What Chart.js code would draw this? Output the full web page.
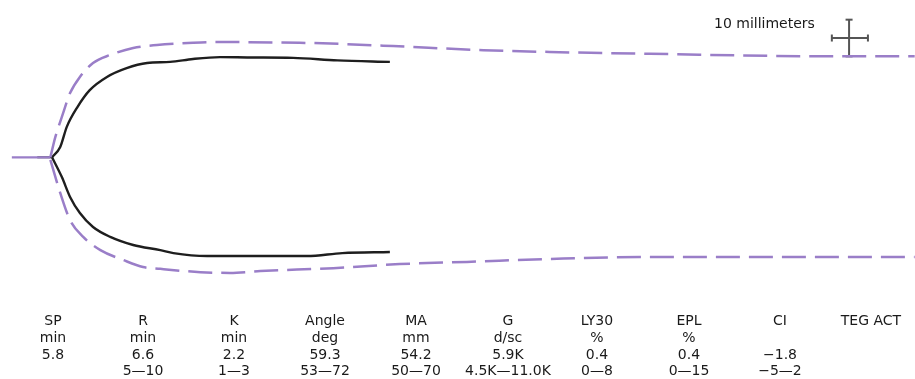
<!DOCTYPE html>
<html>
<head>
<meta charset="utf-8">
<script src="https://cdn.jsdelivr.net/npm/chart.js@4"></script>
<style>
  html, body { margin: 0; padding: 0; background: #fff; }
  #wrap { position: relative; width: 915px; height: 379px; overflow: hidden; }
  #c { position: absolute; left: 0; top: 0; }
  .txt { position: absolute; font-family: "DejaVu Sans", Verdana, sans-serif; font-size: 14px; color: #1a1a1a; white-space: nowrap; }
  .col { position: absolute; width: 110px; text-align: center; line-height: 16.8px; }
</style>
</head>
<body>
<div id="wrap">
  <canvas id="c" width="915" height="379"></canvas>
  <div class="txt" id="scaleLabel" style="left:714px; top:15px; line-height:16.8px;"></div>
  <div id="table"></div>
</div>
<script>
// ---- Data (time in minutes, amplitude in mm from the centre line) ----
const baselinePatientT = [4.8, 6.6];
const baselineNormalT = [1.7, 6.4];
const patientUpperT = [6.6, 7.6, 8.4, 9.7, 11.2, 13.3, 15.7, 18.2, 21.0, 23.8, 27.1, 30.7, 36.0, 41.4, 47.8];
const patientUpperA = [0, 2.8, 8.3, 13.7, 18.3, 21.9, 24.3, 25.7, 26.0, 26.8, 27.3, 27.2, 27.1, 26.4, 26.0];
const patientLowerT = [6.6, 7.8, 8.8, 10.0, 11.6, 13.7, 16.5, 19.8, 21.4, 25.5, 37.7, 42.0, 47.8];
const patientLowerA = [0, -5.4, -10.8, -15.2, -19.0, -21.7, -23.9, -25.3, -26.1, -26.9, -26.9, -26.1, -25.8];
const normalUpperT = [6.4, 7.0, 7.8, 8.8, 10.0, 11.6, 13.7, 16.5, 19.4, 23.8, 26.7, 36.8, 41.7, 48.2, 59.2, 67.3, 79.5, 101.8, 111.8];
const normalUpperA = [0, 5.5, 11.0, 17.5, 21.9, 25.7, 27.9, 29.8, 30.6, 31.2, 31.4, 31.2, 30.9, 30.3, 29.2, 28.7, 28.2, 27.5, 27.5];
const normalLowerT = [6.4, 7.6, 8.8, 10.4, 12.5, 15.3, 17.7, 19.8, 24.7, 28.3, 32.0, 40.9, 49.0, 57.2, 67.3, 78.3, 83.6, 111.8];
const normalLowerA = [-0.7, -9.7, -17.1, -21.7, -25.3, -28.0, -29.9, -30.4, -31.3, -31.5, -31.0, -30.2, -29.1, -28.5, -27.7, -27.2, -27.2, -27.2];
// scale marker: 10 millimetres
const scaleMarkT = 103.8;
const scaleMarkA = [27.5, 37.5];
const scaleMarkArmT = [101.7, 106.1];
const scaleMarkArmA = 32.5;
const scaleLabel = "10 millimeters";

// ---- Parameter table ----
const paramNames  = ["SP", "R", "K", "Angle", "MA", "G", "LY30", "EPL", "CI", "TEG ACT"];
const paramUnits  = ["min", "min", "min", "deg", "mm", "d/sc", "%", "%", "", ""];
const paramValues = ["5.8", "6.6", "2.2", "59.3", "54.2", "5.9K", "0.4", "0.4", "\u22121.8", ""];
const paramRanges = ["", "5\u201410", "1\u20143", "53\u201472", "50\u201470", "4.5K\u201411.0K", "0\u20148", "0\u201415", "\u22125\u20142", ""];

function pts(ts, as) { return ts.map((t, i) => ({ x: t, y: as[i] })); }

const purple = "#9a7ec8";
const black = "#1e1e1e";

new Chart(document.getElementById("c"), {
  type: "scatter",
  data: {
    datasets: [
      { data: pts(baselineNormalT, [0, 0]), borderColor: purple, borderWidth: 2.3 },
      { data: pts(normalUpperT, normalUpperA), borderColor: purple, borderWidth: 2.5, borderDash: [24, 9], cubicInterpolationMode: "monotone" },
      { data: pts(normalLowerT, normalLowerA), borderColor: purple, borderWidth: 2.5, borderDash: [24, 9], cubicInterpolationMode: "monotone" },
      { data: pts(baselinePatientT, [0, 0]), borderColor: "#333", borderWidth: 2 },
      { data: pts(patientUpperT, patientUpperA), borderColor: black, borderWidth: 2.4, cubicInterpolationMode: "monotone" },
      { data: pts(patientLowerT, patientLowerA), borderColor: black, borderWidth: 2.4, cubicInterpolationMode: "monotone" },
      { data: [{ x: scaleMarkT, y: scaleMarkA[0] }, { x: scaleMarkT, y: scaleMarkA[1] }], borderColor: "#555", borderWidth: 2,
        pointStyle: "line", pointRadius: 3.5, pointBorderWidth: 2, pointBorderColor: "#555" },
      { data: [{ x: scaleMarkArmT[0], y: scaleMarkArmA }, { x: scaleMarkArmT[1], y: scaleMarkArmA }], borderColor: "#555", borderWidth: 2,
        pointStyle: "line", pointRotation: 90, pointRadius: 3.5, pointBorderWidth: 2, pointBorderColor: "#555" }
    ].map(d => Object.assign({ showLine: true, pointRadius: 0, fill: false, clip: false }, d))
  },
  options: {
    responsive: false,
    animation: false,
    layout: { padding: 0, autoPadding: false },
    plugins: { legend: { display: false }, tooltip: { enabled: false } },
    scales: {
      x: { type: "linear", min: 0.256, max: 111.84, display: false },
      y: { type: "linear", min: -60.41, max: 42.86, display: false }
    }
  }
});

document.getElementById("scaleLabel").textContent = scaleLabel;

const colCenters = [53, 143, 234, 325, 416, 508, 597, 689, 780, 871];
const table = document.getElementById("table");
paramNames.forEach((n, i) => {
  const d = document.createElement("div");
  d.className = "txt col";
  d.style.left = (colCenters[i] - 55) + "px";
  d.style.top = "312px";
  [n, paramUnits[i], paramValues[i], paramRanges[i]].forEach(s => {
    const line = document.createElement("div");
    line.textContent = s || "\u00a0";
    d.appendChild(line);
  });
  table.appendChild(d);
});
</script>
</body>
</html>
